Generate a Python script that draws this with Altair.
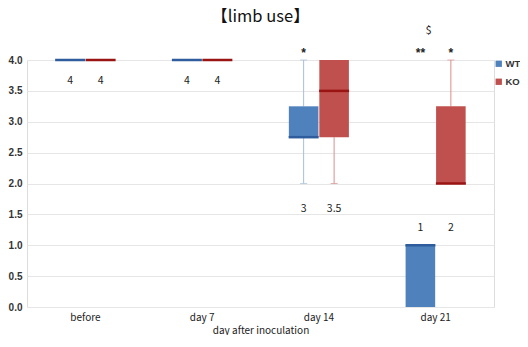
import altair as alt
import pandas as pd

days = ["before", "day 7", "day 14", "day 21"]
groups = ["WT", "KO"]

wt_min = [4, 4, 2, 0]
wt_q1 = [4, 4, 2.75, 0]
wt_med = [4, 4, 2.75, 1]
wt_q3 = [4, 4, 3.25, 1]
wt_max = [4, 4, 4, 1]

ko_min = [4, 4, 2, 2]
ko_q1 = [4, 4, 2.75, 2]
ko_med = [4, 4, 3.5, 2]
ko_q3 = [4, 4, 4, 3.25]
ko_max = [4, 4, 4, 4]

wt_label = ["4", "4", "3", "1"]
ko_label = ["4", "4", "3.5", "2"]
label_y = [3.66, 3.66, 1.59, 1.28]

wt_sig = ["", "", "*", "**"]
ko_sig = ["", "", "", "*"]
sig_y = 4.12
dollar_day = "day 21"
dollar_y = 4.47

box_colors = ["#4F81BD", "#C0504D"]
median_colors = ["#2F5C9C", "#9A1414"]
whisker_colors = ["#A7BEDD", "#D98E8C"]

FONT = "Noto Sans CJK JP"

rows, whisk, caps = [], [], []
series = {
    "WT": (wt_min, wt_q1, wt_med, wt_q3, wt_max, wt_label, wt_sig),
    "KO": (ko_min, ko_q1, ko_med, ko_q3, ko_max, ko_label, ko_sig),
}
for g, (mn, q1, md, q3, mx, lab, sig) in series.items():
    for i, d in enumerate(days):
        rows.append(dict(day=d, group=g, q1=q1[i], med=md[i], q3=q3[i],
                         label=lab[i], ly=label_y[i], sig=sig[i], sy=sig_y))
        if mn[i] < q1[i]:
            whisk.append(dict(day=d, group=g, lo=mn[i], hi=q1[i]))
            caps.append(dict(day=d, group=g, v=mn[i]))
        if mx[i] > q3[i]:
            whisk.append(dict(day=d, group=g, lo=q3[i], hi=mx[i]))
            caps.append(dict(day=d, group=g, v=mx[i]))

df = pd.DataFrame(rows)
dfw = pd.DataFrame(whisk)
dfc = pd.DataFrame(caps)
dfd = pd.DataFrame([dict(day=dollar_day, t="$", y=dollar_y)])

xenc = alt.X("day:N", sort=days, scale=alt.Scale(paddingInner=0, paddingOuter=0),
             axis=alt.Axis(title="day after inoculation", labelAngle=0, ticks=False,
                           domain=False, grid=False, labelPadding=5,
                           titleY=26, titleBaseline="alphabetic",
                           labelFont=FONT, titleFont=FONT, labelFontSize=10,
                           titleFontSize=10, titleFontWeight="normal",
                           labelColor="#222", titleColor="#222"))
xo = alt.XOffset("group:N", sort=groups,
                 scale=alt.Scale(domain=groups, paddingInner=0.03, paddingOuter=0.93))
yscale = alt.Scale(domain=[0, 4], nice=False)
yaxis = alt.Axis(title=None, values=[0, 0.5, 1, 1.5, 2, 2.5, 3, 3.5, 4], format=".1f",
                 ticks=False, domain=False, gridColor="#E6E6E6", labelPadding=5,
                 labelFont="Liberation Sans", labelFontSize=10, labelFontWeight="bold",
                 labelColor="#333")


def Y(f):
    return alt.Y(f, scale=yscale, axis=yaxis)


base = alt.Chart(df)

boxes = base.mark_bar().encode(
    x=xenc, xOffset=xo, y=Y("q1:Q"), y2="q3:Q",
    color=alt.Color("group:N", sort=groups,
                    scale=alt.Scale(domain=groups, range=box_colors),
                    legend=alt.Legend(title=None, orient="none", legendX=467, legendY=-1,
                                      symbolType="square", symbolSize=40,
                                      symbolStrokeWidth=0, rowPadding=7,
                                      labelOffset=2,
                                      labelFont="Liberation Sans", labelFontSize=9.5,
                                      labelFontWeight="bold", labelColor="#333")))

whiskers = alt.Chart(dfw).mark_rule(strokeWidth=1).encode(
    x=xenc, xOffset=xo, y=Y("lo:Q"), y2="hi:Q",
    color=alt.Color("group:N", scale=alt.Scale(domain=groups, range=whisker_colors),
                    legend=None))

capm = alt.Chart(dfc).mark_tick(size=7, thickness=1).encode(
    x=xenc, xOffset=xo, y=Y("v:Q"),
    color=alt.Color("group:N", scale=alt.Scale(domain=groups, range=whisker_colors),
                    legend=None))

medians = base.mark_tick(size=30, thickness=2.5, opacity=1).encode(
    x=xenc, xOffset=xo, y=Y("med:Q"),
    color=alt.Color("group:N", scale=alt.Scale(domain=groups, range=median_colors),
                    legend=None))

labels = base.mark_text(font=FONT, fontSize=10.5, color="#222").encode(
    x=xenc, xOffset=xo, y=Y("ly:Q"), text="label:N")

sigs = base.mark_text(font="Liberation Sans", fontSize=12, fontWeight="bold",
                      color="#222").encode(
    x=xenc, xOffset=xo, y=Y("sy:Q"), text="sig:N")

dollar = alt.Chart(dfd).mark_text(font=FONT, fontSize=11, color="#222", dx=-7).encode(
    x=xenc, y=Y("y:Q"), text="t:N")

chart = alt.layer(whiskers, capm, boxes, medians, labels, sigs, dollar).resolve_scale(
    color="independent"
).properties(
    width=467, height=247,
    title=alt.TitleParams("【limb use】", font=FONT, fontSize=16.5, fontWeight="normal",
                          anchor="middle", offset=-1, color="#111"),
    autosize=alt.AutoSizeParams(type="none"),
    padding={"left": 19, "top": 52, "right": 26, "bottom": 28},
).configure_view(stroke=None).configure(background="white")

chart.save("out.html", embed_options={"renderer": "svg", "actions": False})
